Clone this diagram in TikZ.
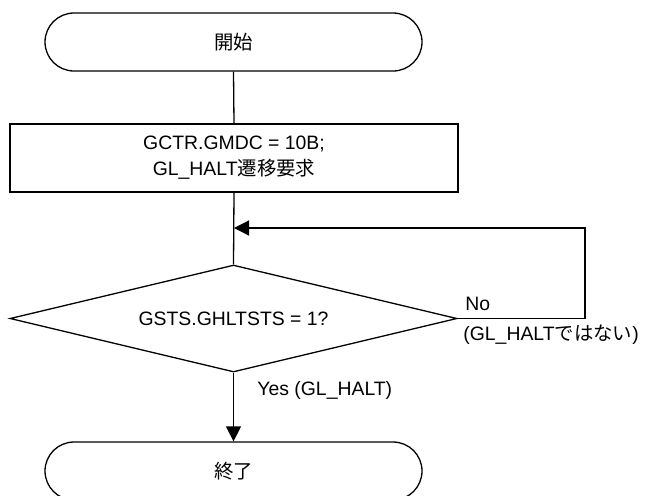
\documentclass[tikz,border=0pt]{standalone}
\usepackage{fontspec}
\setmainfont{Liberation Sans}
\newfontfamily\jp{Noto Sans CJK JP}
\usetikzlibrary{shapes.geometric,arrows.meta}
\begin{document}
\begin{tikzpicture}[x=0.5pt,y=-0.5pt,
  font=\fontsize{9.7pt}{13pt}\selectfont,
  every node/.append style={inner sep=0pt},
  line/.style={draw=black,line width=0.65pt},
  term/.style={line,minimum width=188.5pt,minimum height=29pt,rounded corners=14.5pt},
  procbox/.style={line,minimum width=224pt,minimum height=34pt,align=center},
  decision/.style={line,diamond,shape aspect=4.18,minimum width=223.5pt,minimum height=53.5pt},
  arr/.style={line,-{Triangle[length=7.5pt,width=7.5pt]}},
  lbl/.style={anchor=west}]
\useasboundingbox (0,0) rectangle (652,495);
\node[term] (start) at (233.5,42) {\jp 開始};
\node[procbox] (proc) at (234,158) {GCTR.GMDC = 10B;\\GL\_HALT{\jp 遷移要求}};
\node[decision] (dec) at (233.5,318.5) {GSTS.GHLTSTS = 1?};
\node[term] (end) at (233.5,471) {\jp 終了};
\coordinate (loopc) at (585,228);
\coordinate (join) at (234,228);
\draw[line] (start.south) -- (proc.north);
\draw[line] (proc.south) -- (dec.north);
\draw[arr] (dec.east) -| (loopc) -- (join);
\draw[arr] (dec.south) -- (end.north);
\node[lbl] (no) at (465,304) {No};
\node[lbl] (nolbl) at (463,335) {(GL\_HALT{\jp ではない})};
\node[lbl] (yes) at (257,390) {Yes (GL\_HALT)};
\end{tikzpicture}
\end{document}
